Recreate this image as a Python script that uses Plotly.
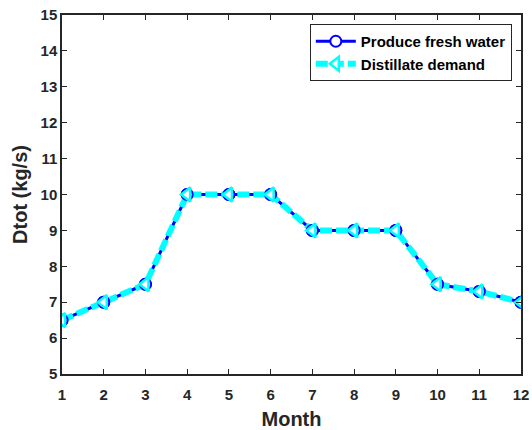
import plotly.graph_objects as go

months = list(range(1, 13))
fresh_water = [6.5, 7.0, 7.5, 10.0, 10.0, 10.0, 9.0, 9.0, 9.0, 7.5, 7.3, 7.0]
distillate_demand = [6.5, 7.0, 7.5, 10.0, 10.0, 10.0, 9.0, 9.0, 9.0, 7.5, 7.3, 7.0]
y_ticks = list(range(5, 16))

font_family = "Liberation Sans, Arial, sans-serif"
axis_color = "#262626"

blue_marker = dict(symbol="circle", size=11, color="white",
                   line=dict(color="#0000ff", width=2))
cyan_marker = dict(symbol="triangle-left", size=12, color="white",
                   line=dict(color="#00ffff", width=2.5))

fig = go.Figure()
# Lines (with markers for the legend entries)
fig.add_trace(go.Scatter(
    x=months, y=fresh_water, mode="lines+markers",
    name="<b>Produce fresh water</b>",
    line=dict(color="#0000ff", width=3),
    marker=blue_marker,
))
fig.add_trace(go.Scatter(
    x=months, y=distillate_demand, mode="lines+markers",
    name="<b>Distillate demand</b>",
    line=dict(color="#00ffff", width=6, dash="12px,4px"),
    marker=cyan_marker,
))
# Markers drawn again on top of both lines
fig.add_trace(go.Scatter(
    x=months, y=fresh_water, mode="markers", showlegend=False,
    marker=blue_marker, hoverinfo="skip",
))
fig.add_trace(go.Scatter(
    x=months, y=distillate_demand, mode="markers", showlegend=False,
    marker=cyan_marker, hoverinfo="skip",
))

axis_common = dict(
    showline=True, linecolor=axis_color, linewidth=1.5, mirror="ticks",
    ticks="inside", ticklen=5, tickcolor=axis_color,
    showgrid=False, zeroline=False, automargin=False,
    tickfont=dict(family=font_family, size=15, color=axis_color),
)

fig.update_xaxes(
    range=[1, 12], tickvals=months,
    ticktext=[f"<b>{m}</b>" for m in months],
    ticklabelstandoff=6,
    title=dict(text="<b>Month</b>",
               font=dict(family=font_family, size=20, color=axis_color),
               standoff=12),
    **axis_common,
)
fig.update_yaxes(
    range=[5, 15], tickvals=y_ticks,
    ticktext=[f"<b>{v}</b>" for v in y_ticks],
    title=dict(text="<b>Dtot (kg/s)</b>",
               font=dict(family=font_family, size=20, color=axis_color),
               standoff=8),
    **axis_common,
)

fig.update_layout(
    width=532, height=430,
    margin=dict(l=62, r=11, t=15, b=56),
    plot_bgcolor="white", paper_bgcolor="white",
    font=dict(family=font_family, color="black"),
    legend=dict(
        x=0.98, y=0.975, xanchor="right", yanchor="top",
        bgcolor="white", bordercolor=axis_color, borderwidth=1,
        font=dict(family=font_family, size=15, color="black"),
        tracegroupgap=0, itemwidth=40,
    ),
)

fig.write_html("out.html")
